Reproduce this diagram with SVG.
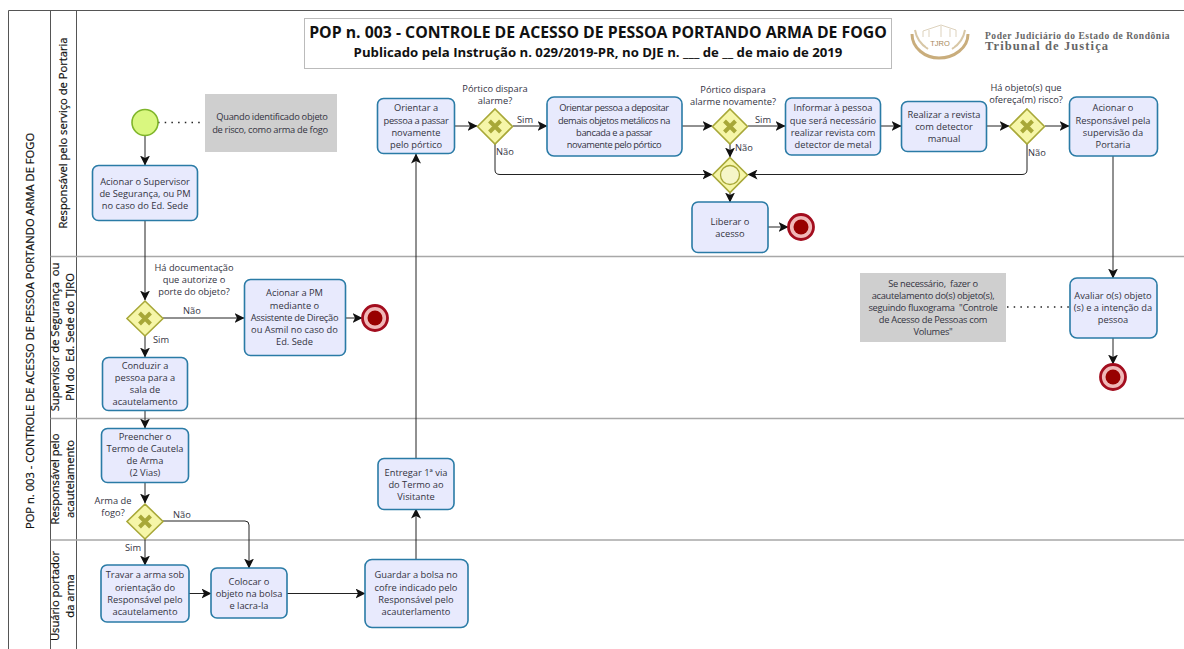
<svg xmlns="http://www.w3.org/2000/svg" width="1184" height="649" viewBox="0 0 1184 649">
<style>
text{font-family:"Open Sans","Noto Sans","Liberation Sans",sans-serif;font-size:9.300px;fill:#33333f;text-anchor:middle;white-space:pre}
.lane{fill:none;stroke:#a8a8a8;stroke-width:1.5}
.pool{fill:none;stroke:#555;stroke-width:1}
.hd{font-size:11.200px;fill:#111;stroke:#111;stroke-width:.2}
.task{fill:#e8eafd;stroke:#2a7ba6;stroke-width:1.6}
.note{fill:#cfcfcf}
.tight{letter-spacing:-.28px}
.tighter{letter-spacing:-.42px}
.gw{fill:#f6f6a8;stroke:#a8a838;stroke-width:1.6}
.x{fill:none;stroke:#a8a838;stroke-width:4}
.start{fill:#d9f77f;stroke:#7fb52a;stroke-width:1.6}
.end1{fill:#f0b8b8;stroke:#a30d1e;stroke-width:2.8}
.end2{fill:#980000}
.c{fill:none;stroke:#222;stroke-width:1;marker-end:url(#a)}
.d{fill:none;stroke:#222;stroke-width:1.500;stroke-dasharray:1.500 5.200}
.t1{font-size:15.800px;font-weight:700;fill:#111}
.t2{font-size:13.200px;font-weight:700;fill:#111}
.lg{font-family:"Liberation Serif",serif;fill:#666;text-anchor:start}
</style>
<defs>
<marker id="a" viewBox="0 0 10 10" refX="9.500" refY="5" markerWidth="10" markerHeight="10" markerUnits="userSpaceOnUse" orient="auto"><path d="M0 0L10 5L0 10L2.500 5Z" fill="#111"/></marker>
<g id="x"><path class="x" d="M-5.500 -5.500L5.500 5.500M5.500 -5.500L-5.500 5.500"/></g>
</defs>
<rect width="1184" height="649" fill="#fff"/>
<g id="pool">
<path class="pool" d="M8.500 649V10.500H1184M50.500 10.500V649M76.500 10.500V649"/>
<path class="lane" d="M50.500 256.500H1184M50.500 418.500H1184M50.500 540H1184"/>
<text transform="translate(34 331) rotate(-90)" class="hd">POP n. 003 - CONTROLE DE ACESSO DE PESSOA PORTANDO ARMA DE FOGO</text>
<text transform="translate(67 133) rotate(-90)" class="hd">Responsável pelo serviço de Portaria</text>
<text transform="translate(59 337) rotate(-90)" class="hd"><tspan x="0">Supervisor de Segurança  ou</tspan><tspan x="0" dy="15">PM do  Ed. Sede do TJRO</tspan></text>
<text transform="translate(59 479) rotate(-90)" class="hd"><tspan x="0">Responsável pelo</tspan><tspan x="0" dy="15">acautelamento</tspan></text>
<text transform="translate(59 596) rotate(-90)" class="hd"><tspan x="0">Usuário portador</tspan><tspan x="0" dy="15">da arma</tspan></text>
</g>
<g id="title">
<rect x="304.500" y="18.500" width="587" height="50" fill="#fff" stroke="#bbb"/>
<text x="598" y="38" class="t1">POP n. 003 - CONTROLE DE ACESSO DE PESSOA PORTANDO ARMA DE FOGO</text>
<text x="598" y="57" class="t2">Publicado pela Instrução n. 029/2019-PR, no DJE n. ___ de __ de maio de 2019</text>
</g>
<g id="logo">
<path d="M912 34C912 48 925 58 939 58C954 58 968 48 968 34" fill="none" stroke="#c9ad7c" stroke-width="3"/>
<path d="M915 30C916 36 920 44 928 49M965 30C964 36 960 44 952 49" fill="none" stroke="#d8c7a6" stroke-width="2"/>
<path d="M923 37V31L941 25L956 30V37M929 37V30M941 37V26M950 37V29" fill="none" stroke="#ddd2bd" stroke-width="1"/>
<rect x="926" y="37" width="28" height="10" fill="#fff" fill-opacity="0.6"/>
<text x="940" y="46" style="font-size:7.500px;fill:#a8895a;font-family:'Liberation Sans',sans-serif">TJRO</text>
<text x="985" y="38.500" class="lg" style="font-size:9.500px;font-weight:700;letter-spacing:.55px">Poder Judiciário do Estado de Rondônia</text>
<text x="985" y="50" class="lg" style="font-size:12.500px;font-weight:700;letter-spacing:1.1px">Tribunal de Justiça</text>
</g>
<g id="connectors">
<path class="c" d="M145 136V165"/>
<path class="c" d="M145 221V300"/>
<path class="c" d="M163 318H244"/>
<path class="c" d="M345 318H362"/>
<path class="c" d="M145 336V357"/>
<path class="c" d="M145 410V428"/>
<path class="c" d="M145 482V503"/>
<path class="c" d="M145 539V565"/>
<path class="c" d="M163 521H245Q249 521 249 525V568"/>
<path class="c" d="M189 593.500H211"/>
<path class="c" d="M287 593.500H365"/>
<path class="c" d="M416 559V509"/>
<path class="c" d="M416 458V154"/>
<path class="c" d="M455 126H477"/>
<path class="c" d="M513 126H547"/>
<path class="c" d="M682 126H712"/>
<path class="c" d="M748 126H785"/>
<path class="c" d="M881 126H901"/>
<path class="c" d="M987 126H1009"/>
<path class="c" d="M1045 126H1069"/>
<path class="c" d="M495 144V170Q495 174.500 500 174.500H712"/>
<path class="c" d="M1027 144V170Q1027 174.500 1022 174.500H748"/>
<path class="c" d="M730 144V157"/>
<path class="c" d="M730 193V202"/>
<path class="c" d="M768 227H788"/>
<path class="c" d="M1113 156V278"/>
<path class="c" d="M1113 338V364"/>
<path class="d" d="M158 122.500H204"/>
<path class="d" d="M1007 307H1070"/>
</g>
<g id="start"><circle class="start" cx="145" cy="122.500" r="13"/></g>
<g id="note1" class="tight"><rect class="note" x="205" y="94" width="132" height="58"/><text x="272" y="120">Quando identificado objeto</text><text x="270" y="133">de risco, como arma de fogo</text></g>
<g id="t1"><rect class="task" x="92.500" y="165.500" width="105" height="55" rx="6"/><text x="145" y="185">Acionar o Supervisor</text><text x="145" y="197">de Segurança, ou PM</text><text x="145" y="209">no caso do Ed. Sede</text></g>
<g id="g1"><path class="gw" d="M145 301L163 318.500L145 336L127 318.500Z"/><use href="#x" x="145" y="318.500"/></g>
<g id="t2"><rect class="task" x="244.500" y="279.500" width="101" height="76" rx="6"/><text x="294.500" y="296">Acionar a PM</text><text x="294.500" y="309">mediante o</text><text x="294.500" y="321" class="tight">Assistente de Direção</text><text x="294.500" y="333">ou Asmil no caso do</text><text x="294.500" y="345">Ed. Sede</text></g>
<g id="e1"><circle class="end1" cx="375" cy="318" r="12.500"/><circle class="end2" cx="375" cy="318" r="7.500"/></g>
<g id="t3"><rect class="task" x="102.500" y="357.500" width="85" height="53" rx="6"/><text x="145" y="369">Conduzir a</text><text x="145" y="381">pessoa para a</text><text x="145" y="393">sala de</text><text x="145" y="405">acautelamento</text></g>
<g id="t4"><rect class="task" x="101.500" y="428.500" width="87" height="54" rx="6"/><text x="145" y="440">Preencher o</text><text x="145" y="452">Termo de Cautela</text><text x="145" y="464">de Arma</text><text x="145" y="476">(2 Vias)</text></g>
<g id="g2"><path class="gw" d="M145 504L163 521.500L145 539L127 521.500Z"/><use href="#x" x="145" y="521.500"/></g>
<g id="t5"><rect class="task" x="101" y="565" width="88" height="57" rx="6"/><text x="145" y="578">Travar a arma sob</text><text x="145" y="591">orientação do</text><text x="145" y="603">Responsável pelo</text><text x="145" y="615">acautelamento</text></g>
<g id="t6"><rect class="task" x="211" y="568" width="76" height="50" rx="6"/><text x="249" y="585">Colocar o</text><text x="249" y="597">objeto na bolsa</text><text x="249" y="609">e lacra-la</text></g>
<g id="t7"><rect class="task" x="365" y="559.500" width="103" height="68" rx="7"/><text x="416" y="578">Guardar a bolsa no</text><text x="416" y="591">cofre indicado pelo</text><text x="416" y="603">Responsável pelo</text><text x="416" y="615">acauterlamento</text></g>
<g id="t8"><rect class="task" x="378" y="458.500" width="76" height="51" rx="6"/><text x="416" y="476">Entregar 1ª via</text><text x="416" y="488">do Termo ao</text><text x="416" y="500">Visitante</text></g>
<g id="t9"><rect class="task" x="377.500" y="98.500" width="77" height="55" rx="6"/><text x="416" y="111">Orientar a</text><text x="416" y="124" class="tight">pessoa a passar</text><text x="416" y="136">novamente</text><text x="416" y="148">pelo pórtico</text></g>
<g id="g3"><path class="gw" d="M495 109L512.500 126.500L495 144L477.500 126.500Z"/><use href="#x" x="495" y="126.500"/></g>
<g id="t10" class="tighter"><rect class="task" x="547" y="97" width="135" height="59" rx="7"/><text x="614" y="111">Orientar pessoa a depositar</text><text x="614" y="124">demais objetos metálicos na</text><text x="614" y="136">bancada e a passar</text><text x="614" y="148">novamente pelo pórtico</text></g>
<g id="g4"><path class="gw" d="M730 109L747.500 126.500L730 144L712.500 126.500Z"/><use href="#x" x="730" y="126.500"/></g>
<g id="g5"><path class="gw" d="M730 157.500L747.500 175L730 192.500L712.500 175Z"/><circle cx="730" cy="175" r="9.500" fill="#f6f6c8" stroke="#a8a838" stroke-width="1.300"/></g>
<g id="t11"><rect class="task" x="692" y="202" width="76" height="50.500" rx="6"/><text x="730" y="225">Liberar o</text><text x="730" y="237">acesso</text></g>
<g id="e2"><circle class="end1" cx="801" cy="227" r="12.500"/><circle class="end2" cx="801" cy="227" r="7.500"/></g>
<g id="t12"><rect class="task" x="785.500" y="98" width="95" height="57" rx="6"/><text x="833" y="111">Informar à pessoa</text><text x="833" y="124">que será necessário</text><text x="833" y="136">realizar revista com</text><text x="833" y="148">detector de metal</text></g>
<g id="t13"><rect class="task" x="901.500" y="101.500" width="85" height="50" rx="6"/><text x="944" y="118">Realizar a revista</text><text x="944" y="130">com detector</text><text x="944" y="142">manual</text></g>
<g id="g6"><path class="gw" d="M1027 109L1044.500 126.500L1027 144L1009.500 126.500Z"/><use href="#x" x="1027" y="126.500"/></g>
<g id="t14"><rect class="task" x="1069.500" y="97" width="88" height="59" rx="7"/><text x="1113" y="111">Acionar o</text><text x="1113" y="124">Responsável pela</text><text x="1113" y="136">supervisão da</text><text x="1113" y="148">Portaria</text></g>
<g id="t15"><rect class="task" x="1070" y="278" width="87" height="60" rx="7"/><text x="1113" y="299">Avaliar o(s) objeto</text><text x="1113" y="311">(s) e a intenção da</text><text x="1113" y="323">pessoa</text></g>
<g id="e3"><circle class="end1" cx="1113" cy="377" r="12.500"/><circle class="end2" cx="1113" cy="377" r="7.500"/></g>
<g id="note2" class="tight"><rect class="note" x="860" y="273" width="146" height="69"/><text x="933" y="287">Se necessário,  fazer o</text><text x="933" y="299">acautelamento do(s) objeto(s),</text><text x="933" y="311">seguindo fluxograma  "Controle</text><text x="933" y="323">de Acesso de Pessoas com</text><text x="933" y="335">Volumes"</text></g>
<g id="labels">
<text x="194" y="271">Há documentação</text><text x="194" y="283">que autorize o</text><text x="194" y="295">porte do objeto?</text>
<text x="192" y="314">Não</text><text x="161" y="343">Sim</text>
<text x="113" y="504">Arma de</text><text x="113" y="516">fogo?</text>
<text x="182" y="518">Não</text><text x="133" y="551">Sim</text>
<text x="495" y="92">Pórtico dispara</text><text x="495" y="104">alarme?</text>
<text x="525" y="123">Sim</text><text x="505" y="155">Não</text>
<text x="733" y="93">Pórtico dispara</text><text x="733" y="105">alarme novamente?</text>
<text x="763" y="123">Sim</text><text x="744" y="151">Não</text>
<text x="1026" y="91">Há objeto(s) que</text><text x="1026" y="103">ofereça(m) risco?</text>
<text x="1037" y="156">Não</text>
</g>
</svg>
